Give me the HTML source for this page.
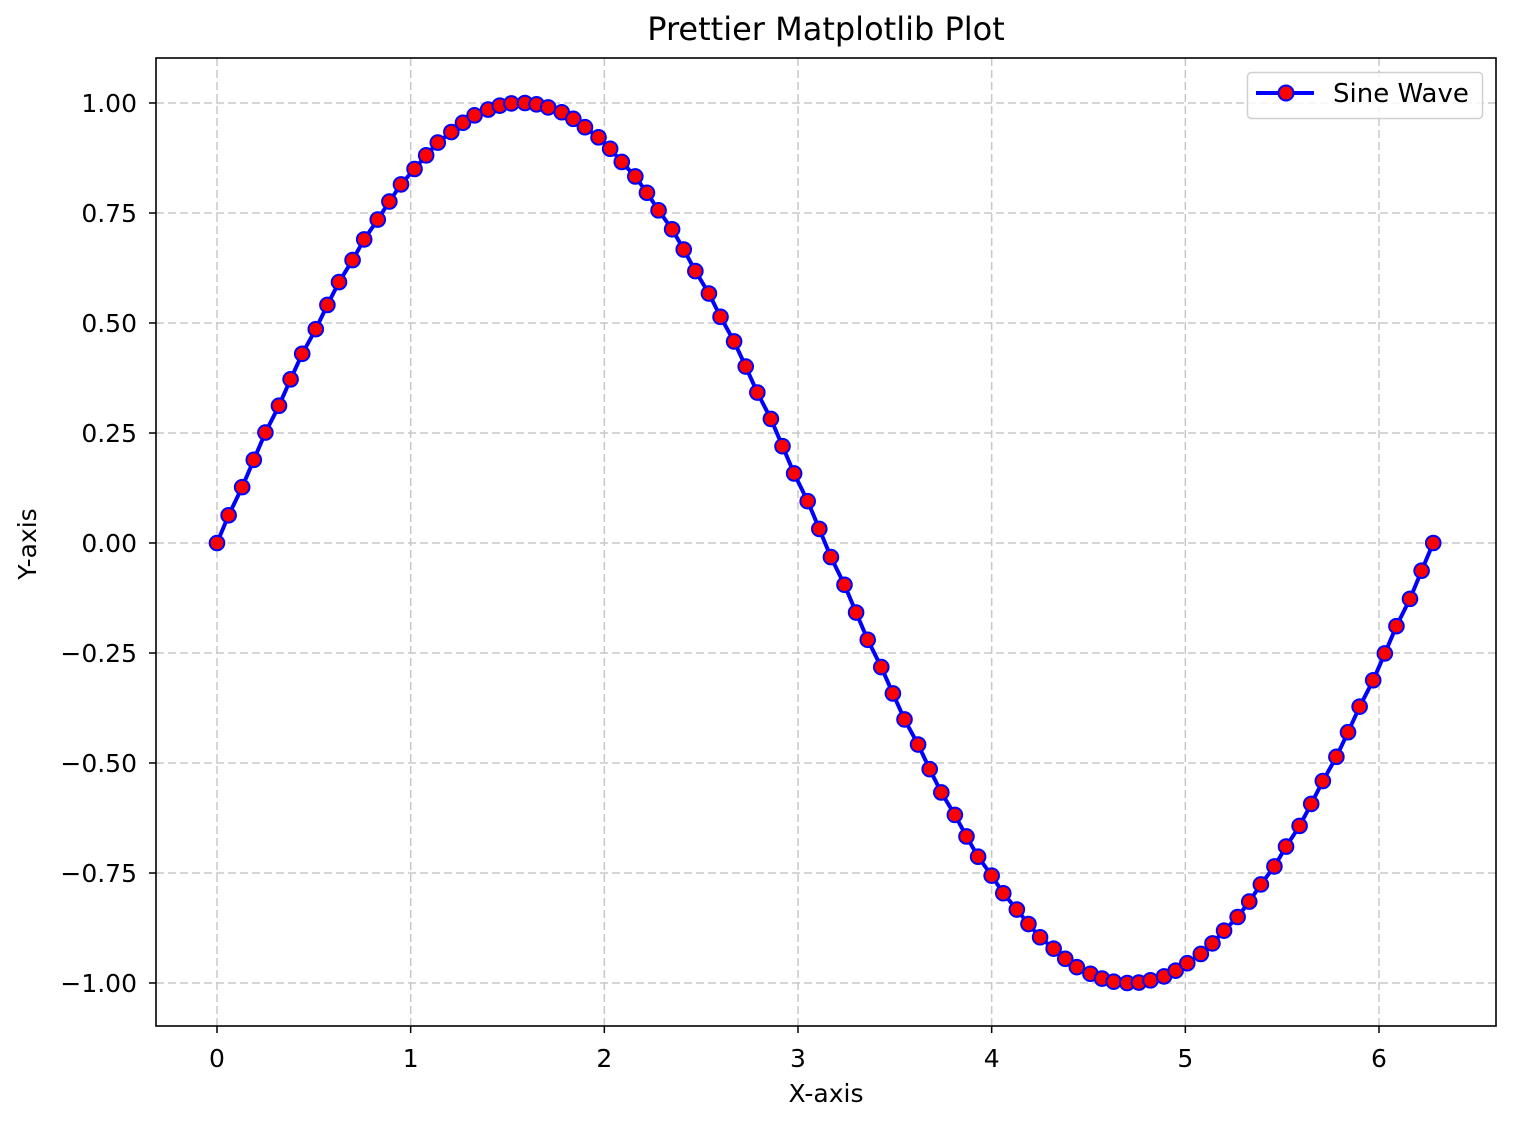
<!DOCTYPE html>
<html><head><meta charset="utf-8"><style>
html,body{margin:0;padding:0;background:#fff;}
svg{display:block;font-family:"DejaVu Sans","Liberation Sans",sans-serif;}
</style></head><body>
<svg id="chart" width="1514" height="1128" viewBox="0 0 1514 1128"></svg>
<script>
const xValues=[0,0.06,0.13,0.19,0.25,0.32,0.38,0.44,0.51,0.57,0.63,0.70,0.76,0.83,0.89,0.95,1.02,1.08,1.14,1.21,1.27,1.33,1.40,1.46,1.52,1.59,1.65,1.71,1.78,1.84,1.90,1.97,2.03,2.09,2.16,2.22,2.28,2.35,2.41,2.47,2.54,2.60,2.67,2.73,2.79,2.86,2.92,2.98,3.05,3.11,3.17,3.24,3.30,3.36,3.43,3.49,3.55,3.62,3.68,3.74,3.81,3.87,3.93,4.00,4.06,4.13,4.19,4.25,4.32,4.38,4.44,4.51,4.57,4.63,4.70,4.76,4.82,4.89,4.95,5.01,5.08,5.14,5.20,5.27,5.33,5.39,5.46,5.52,5.59,5.65,5.71,5.78,5.84,5.90,5.97,6.03,6.09,6.16,6.22,6.28];
const yFirstHalf=[0,0.063,0.127,0.189,0.251,0.312,0.372,0.430,0.486,0.541,0.593,0.643,0.690,0.735,0.776,0.815,0.850,0.881,0.910,0.934,0.955,0.972,0.985,0.994,0.999,1.000,0.997,0.990,0.979,0.964,0.945,0.922,0.896,0.866,0.833,0.796,0.756,0.713,0.667,0.618,0.567,0.514,0.458,0.401,0.342,0.282,0.220,0.158,0.095,0.032];
const ySecondHalf=[-0.032,-0.095,-0.158,-0.220,-0.282,-0.342,-0.401,-0.458,-0.514,-0.567,-0.618,-0.667,-0.713,-0.756,-0.796,-0.833,-0.866,-0.896,-0.922,-0.945,-0.964,-0.979,-0.990,-0.997,-1.000,-0.999,-0.994,-0.985,-0.972,-0.955,-0.934,-0.910,-0.881,-0.850,-0.815,-0.776,-0.735,-0.690,-0.643,-0.593,-0.541,-0.486,-0.430,-0.372,-0.312,-0.251,-0.189,-0.127,-0.063,0];
const yValues=yFirstHalf.concat(ySecondHalf);
const xTicks=[0,1,2,3,4,5,6];
const xTickLabels=["0","1","2","3","4","5","6"];
const yTicks=[1,0.75,0.5,0.25,0,-0.25,-0.5,-0.75,-1];
const yTickLabels=["1.00","0.75","0.50","0.25","0.00","\u22120.25","\u22120.50","\u22120.75","\u22121.00"];

const L=156,R=1496,T=58,B=1026;
function sx(v){return 217+v*(1379-217)/6;}
function sy(v){return 543-v*440;}
const svg=document.getElementById('chart');
const NS='http://www.w3.org/2000/svg';
function mk(tag,attrs,parent){const e=document.createElementNS(NS,tag);for(const k in attrs)e.setAttribute(k,attrs[k]);(parent||svg).appendChild(e);return e;}

const grid=mk('g',{});


xTicks.forEach(function(t,i){
  const x=sx(t);
  const gl=mk('line',{x1:x,x2:x,y1:T,y2:B,stroke:'#c8c8c8','stroke-width':1.5,'stroke-dasharray':'8,4'},grid);
  
  
  mk('line',{x1:x,x2:x,y1:B,y2:B+7,stroke:'#000','stroke-width':1.5});
  const tx=mk('text',{x:x,y:B+41,'font-size':25,'text-anchor':'middle',fill:'#000'});
  tx.textContent=xTickLabels[i];
  
  
});
yTicks.forEach(function(t,i){
  const y=sy(t);
  const gl=mk('line',{x1:L,x2:R,y1:y,y2:y,stroke:'#c8c8c8','stroke-width':1.5,'stroke-dasharray':'8,4'},grid);
  
  
  mk('line',{x1:L-7,x2:L,y1:y,y2:y,stroke:'#000','stroke-width':1.5});
  const tx=mk('text',{x:137,y:y+9,'font-size':25,'text-anchor':'end',fill:'#000'});
  tx.textContent=yTickLabels[i];
  
  
});

let d='';
xValues.forEach(function(v,i){d+=(i?'L':'M')+sx(v).toFixed(2)+','+sy(yValues[i]).toFixed(2);});
const line=mk('path',{d:d,fill:'none',stroke:'#0000ff','stroke-width':4,'stroke-linejoin':'round'});


xValues.forEach(function(v,i){
  const c=mk('circle',{cx:sx(v),cy:sy(yValues[i]),r:7.3,fill:'#ff0000',stroke:'#0000ff','stroke-width':2});
  
  
});

const frame=mk('rect',{x:L,y:T,width:R-L,height:B-T,fill:'none',stroke:'#000','stroke-width':1.6});



const title=mk('text',{x:826,y:40,'font-size':32,'text-anchor':'middle',fill:'#000'});
title.textContent='Prettier Matplotlib Plot';


const xl=mk('text',{x:826,y:1102,'font-size':25,'text-anchor':'middle',fill:'#000'});
xl.textContent='X-axis';


const yl=mk('text',{x:0,y:0,'font-size':25,'text-anchor':'middle',fill:'#000',transform:'translate(36,544) rotate(-90)'});
yl.textContent='Y-axis';



const leg=mk('g',{});


mk('rect',{x:1247.5,y:72.5,width:235,height:46,rx:4,fill:'#fff','fill-opacity':0.8,stroke:'#d0d0d0','stroke-width':1.5},leg);
mk('line',{x1:1256,x2:1314,y1:93,y2:93,stroke:'#0000ff','stroke-width':4},leg);
mk('circle',{cx:1286,cy:93,r:7.5,fill:'#ff0000',stroke:'#0000ff','stroke-width':2},leg);
const lt=mk('text',{x:1333,y:102,'font-size':26,fill:'#000'},leg);
lt.textContent='Sine Wave';


</script>
</body></html>
